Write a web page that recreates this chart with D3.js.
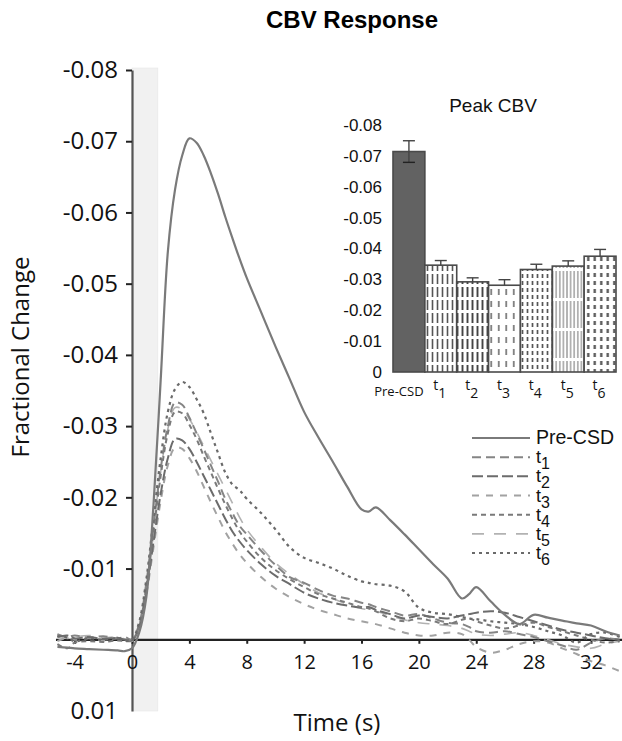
<!DOCTYPE html>
<html><head><meta charset="utf-8">
<script src="https://cdn.jsdelivr.net/npm/d3@7"></script>
<style>body{margin:0;background:#fff} svg{display:block}</style>
</head><body>
<svg id="chart" width="622" height="741"></svg>
<script>
// ---------- DATA ----------
const times = [-5.2,-4.5,-4,-3,-2,-1,-0.5,0,0.5,1,1.5,2,2.5,3,3.5,4,4.5,5,5.5,6,6.5,7,7.5,8,9,10,11,12,13,14,15,16,16.5,17,18,19,20,21,22,23,23.5,24,25,26,27,28,29,30,31,32,33,34];
const preCSD = [0.0010,0.0011,0.0012,0.0013,0.0014,0.0015,0.0016,0.0012,-0.0010,-0.0060,-0.0190,-0.0365,-0.0545,-0.0632,-0.0680,-0.0704,-0.0698,-0.0680,-0.0655,-0.0626,-0.0594,-0.0564,-0.0535,-0.0508,-0.0460,-0.0412,-0.0366,-0.0320,-0.0284,-0.0250,-0.0215,-0.0183,-0.0180,-0.0186,-0.0168,-0.0148,-0.0127,-0.0106,-0.0086,-0.0058,-0.0064,-0.0074,-0.0054,-0.0035,-0.0022,-0.0035,-0.0031,-0.0027,-0.0023,-0.0020,-0.0012,-0.0006];
const t1 = [-0.0008,-0.0004,-0.0006,-0.0003,-0.0005,-0.0002,-0.0004,0.0000,-0.0022,-0.0080,-0.0160,-0.0240,-0.0300,-0.0333,-0.0330,-0.0312,-0.0290,-0.0268,-0.0245,-0.0222,-0.0198,-0.0178,-0.0160,-0.0148,-0.0125,-0.0105,-0.0088,-0.0080,-0.0070,-0.0062,-0.0058,-0.0052,-0.0050,-0.0046,-0.0040,-0.0034,-0.0036,-0.0030,-0.0024,-0.0022,-0.0018,-0.0012,-0.0010,-0.0012,-0.0008,-0.0004,0.0002,0.0008,0.0014,0.0004,-0.0002,0.0000];
const t2 = [-0.0004,-0.0006,-0.0002,-0.0004,-0.0001,-0.0003,0.0000,0.0001,-0.0018,-0.0068,-0.0138,-0.0205,-0.0255,-0.0282,-0.0280,-0.0268,-0.0250,-0.0230,-0.0210,-0.0190,-0.0170,-0.0152,-0.0138,-0.0126,-0.0106,-0.0090,-0.0078,-0.0066,-0.0058,-0.0052,-0.0048,-0.0045,-0.0046,-0.0042,-0.0036,-0.0030,-0.0034,-0.0032,-0.0030,-0.0034,-0.0036,-0.0038,-0.0040,-0.0038,-0.0032,-0.0026,-0.0020,-0.0014,-0.0010,-0.0006,-0.0002,0.0000];
const t3 = [0.0002,-0.0003,0.0000,-0.0002,0.0001,-0.0002,0.0001,0.0001,-0.0016,-0.0064,-0.0130,-0.0195,-0.0245,-0.0270,-0.0268,-0.0255,-0.0237,-0.0215,-0.0193,-0.0172,-0.0152,-0.0135,-0.0120,-0.0108,-0.0088,-0.0072,-0.0060,-0.0050,-0.0042,-0.0036,-0.0030,-0.0026,-0.0024,-0.0022,-0.0016,-0.0010,-0.0006,-0.0006,-0.0010,-0.0008,0.0000,0.0010,0.0018,0.0014,0.0006,0.0002,0.0004,0.0012,0.0020,0.0030,0.0036,0.0044];
const t4 = [0.0006,0.0012,0.0004,0.0002,0.0003,0.0001,0.0002,0.0001,-0.0020,-0.0075,-0.0152,-0.0230,-0.0290,-0.0320,-0.0318,-0.0302,-0.0282,-0.0258,-0.0235,-0.0212,-0.0190,-0.0170,-0.0152,-0.0138,-0.0115,-0.0098,-0.0085,-0.0074,-0.0064,-0.0058,-0.0052,-0.0046,-0.0044,-0.0040,-0.0030,-0.0026,-0.0030,-0.0026,-0.0022,-0.0028,-0.0030,-0.0026,-0.0020,-0.0016,-0.0020,-0.0024,-0.0018,-0.0012,-0.0006,0.0000,0.0004,0.0002];
const t5 = [-0.0006,-0.0002,-0.0004,-0.0006,-0.0003,-0.0004,-0.0001,0.0002,-0.0020,-0.0078,-0.0158,-0.0236,-0.0296,-0.0326,-0.0324,-0.0310,-0.0292,-0.0272,-0.0252,-0.0232,-0.0212,-0.0192,-0.0172,-0.0155,-0.0130,-0.0108,-0.0092,-0.0078,-0.0066,-0.0058,-0.0050,-0.0044,-0.0042,-0.0040,-0.0034,-0.0028,-0.0024,-0.0022,-0.0020,-0.0016,-0.0012,-0.0008,-0.0006,-0.0008,-0.0010,-0.0006,0.0000,0.0006,0.0010,0.0012,0.0006,0.0002];
const t6 = [-0.0005,-0.0003,0.0002,-0.0002,0.0000,-0.0002,0.0001,0.0000,-0.0025,-0.0085,-0.0170,-0.0255,-0.0320,-0.0352,-0.0362,-0.0355,-0.0338,-0.0318,-0.0290,-0.0262,-0.0235,-0.0218,-0.0210,-0.0198,-0.0178,-0.0155,-0.0130,-0.0115,-0.0108,-0.0100,-0.0090,-0.0082,-0.0080,-0.0078,-0.0076,-0.0068,-0.0045,-0.0038,-0.0036,-0.0032,-0.0030,-0.0029,-0.0026,-0.0024,-0.0022,-0.0018,-0.0012,-0.0006,0.0004,-0.0008,-0.0010,-0.0004];
const seriesNames = ["Pre-CSD","t1","t2","t3","t4","t5","t6"];
const stimulusWindow = [0, 1.8];
const xTicks = [-4,0,4,8,12,16,20,24,28,32];
const yTicks = [-0.08,-0.07,-0.06,-0.05,-0.04,-0.03,-0.02,-0.01,0.01];
const barCategories = ["Pre-CSD","t1","t2","t3","t4","t5","t6"];
const barValues = [-0.0714,-0.0346,-0.0292,-0.0281,-0.0332,-0.0343,-0.0375];
const barErrors = [0.0035,0.0015,0.0013,0.0018,0.0017,0.0017,0.0022];
const insetYTicks = [-0.08,-0.07,-0.06,-0.05,-0.04,-0.03,-0.02,-0.01,0];

// ---------- STYLES ----------
const lineStyles = {
  "Pre-CSD": {color:"#7a7a7a", dash:null, w:2.2},
  "t1": {color:"#858585", dash:"9,5", w:2},
  "t2": {color:"#6c6c6c", dash:"11,4", w:2},
  "t3": {color:"#a2a2a2", dash:"7,7", w:2},
  "t4": {color:"#7a7a7a", dash:"5,4", w:2},
  "t5": {color:"#b2b2b2", dash:"12,10", w:1.6},
  "t6": {color:"#6a6a6a", dash:"3,4", w:2.2}
};
const seriesData = {"Pre-CSD":preCSD, t1, t2, t3, t4, t5, t6};

const svg = d3.select("#chart");
const x = d3.scaleLinear().domain([0, 32]).range([132, 591]);
const y = d3.scaleLinear().domain([-0.08, 0.01]).range([70, 711]);
const fmt = v => v === 0 ? "0" : v.toFixed(2);
const tickFont = "'Open Sans', sans-serif";

// Title
svg.append("text").attr("x", 352).attr("y", 28).attr("text-anchor","middle")
  .attr("font-family","'Liberation Sans', Arial, sans-serif").attr("font-weight","bold")
  .attr("font-size", 24).text("CBV Response");

// stimulus band
svg.append("rect").attr("x", x(stimulusWindow[0])).attr("width", x(stimulusWindow[1]) - x(stimulusWindow[0]))
  .attr("y", y(-0.08) - 2).attr("height", y(0.01) - y(-0.08) + 2).attr("fill", "#f1f1f1").attr("stroke","#e6e6e6").attr("stroke-width",0.6);

// y axis
const yAxis = svg.append("g").attr("transform", `translate(${x(0)},0)`)
  .call(d3.axisLeft(y).tickValues(yTicks).tickFormat(fmt).tickSize(6).tickSizeOuter(0).tickPadding(8));
yAxis.select(".domain").attr("stroke","#555").attr("stroke-width",2.2);
yAxis.selectAll(".tick line").attr("stroke","#222").attr("stroke-width",2);
yAxis.selectAll(".tick").filter(d => d === 0.01).select("line").remove();
yAxis.selectAll(".tick text").attr("font-family", tickFont).attr("font-size", 24).attr("fill","#111");

// x axis
svg.append("line").attr("x1", x(-5.3)).attr("x2", 622).attr("y1", y(0)).attr("y2", y(0))
  .attr("stroke","#222").attr("stroke-width",2.2);
const xAxis = svg.append("g").attr("transform", `translate(0,${y(0)})`)
  .call(d3.axisBottom(x).tickValues(xTicks).tickFormat(d => d).tickSize(4).tickPadding(11));
xAxis.select(".domain").remove();
xAxis.selectAll(".tick line").attr("stroke","#222").attr("stroke-width",2);
xAxis.selectAll(".tick text").attr("font-family", tickFont).attr("font-size", 20).attr("fill","#111");

// axis titles
svg.append("text").attr("transform","translate(29,357) rotate(-90)").attr("text-anchor","middle")
  .attr("font-family", tickFont).attr("font-size", 24).attr("fill","#111").text("Fractional Change");
svg.append("text").attr("x", 337).attr("y", 731).attr("text-anchor","middle")
  .attr("font-family", tickFont).attr("font-size", 24).attr("fill","#111").text("Time (s)");

// lines
const line = d3.line().x(d => x(d[0])).y(d => y(d[1])).curve(d3.curveCatmullRom.alpha(0.5));
const drawOrder = ["t5","t3","t1","t2","t4","t6","Pre-CSD"];
drawOrder.forEach(name => {
  const st = lineStyles[name];
  const pts = times.map((t, i) => [t, seriesData[name][i]]);
  svg.append("path").datum(pts).attr("d", line).attr("fill","none")
    .attr("stroke", st.color).attr("stroke-width", st.w)
    .attr("stroke-dasharray", st.dash).attr("stroke-linejoin","round");
});

// legend
const legendFont = "'Liberation Sans', Arial, sans-serif";
const legendY = d3.scalePoint().domain(seriesNames).range([438, 553]);
const lg = svg.append("g");
seriesNames.forEach(name => {
  const st = lineStyles[name];
  const yy = legendY(name);
  lg.append("line").attr("x1", 472).attr("x2", 530).attr("y1", yy).attr("y2", yy)
    .attr("stroke", st.color).attr("stroke-width", st.w).attr("stroke-dasharray", st.dash);
  const tx = lg.append("text").attr("x", 536).attr("font-family", legendFont).attr("fill","#111");
  if (name === "Pre-CSD") {
    tx.attr("y", yy + 6).attr("font-size", 19.5).text(name);
  } else {
    tx.attr("y", yy + 6).attr("font-size", 18);
    tx.append("tspan").text("t");
    tx.append("tspan").attr("dy", 6).attr("font-size", 16).text(name.slice(1));
  }
});

// ---------- INSET ----------
const defs = svg.append("defs");
const patterns = {
  t1: {w:5, h:13, dw:1.6, dh:10, c:"#555"},
  t2: {w:5, h:13, dw:1.9, dh:10, c:"#444"},
  t3: {w:7.5, h:12, dw:1.7, dh:6, c:"#777"},
  t4: {w:5, h:7, dw:1.7, dh:4, c:"#555"},
  t5: {w:3.6, h:30, dw:1.2, dh:27, c:"#8a8a8a"},
  t6: {w:6.5, h:8, dw:2.3, dh:4, c:"#555"}
};
Object.entries(patterns).forEach(([k, p]) => {
  const pat = defs.append("pattern").attr("id", "pat-" + k).attr("patternUnits","userSpaceOnUse")
    .attr("width", p.w).attr("height", p.h);
  pat.append("rect").attr("width", p.w).attr("height", p.h).attr("fill","#fff");
  pat.append("rect").attr("x", (p.w - p.dw) / 2).attr("y", 1).attr("width", p.dw).attr("height", p.dh).attr("fill", p.c);
});

const ix = d3.scaleBand().domain(barCategories).range([393, 616]).padding(0);
const iy = d3.scaleLinear().domain([-0.08, 0]).range([125, 372]);
const inset = svg.append("g");
inset.append("text").attr("x", 493).attr("y", 112).attr("text-anchor","middle")
  .attr("font-family", legendFont).attr("font-size", 19).attr("fill","#111").text("Peak CBV");
const iAxis = inset.append("g").attr("transform","translate(386,0)")
  .call(d3.axisLeft(iy).tickValues(insetYTicks).tickFormat(fmt).tickSize(0).tickPadding(4));
iAxis.select(".domain").remove();
iAxis.selectAll(".tick text").attr("font-family", legendFont).attr("font-size", 17).attr("fill","#111");

barCategories.forEach((c, i) => {
  const v = barValues[i];
  inset.append("rect").attr("x", ix(c)).attr("width", ix.bandwidth())
    .attr("y", iy(v)).attr("height", iy(0) - iy(v))
    .attr("fill", i === 0 ? "#626262" : `url(#pat-${c})`)
    .attr("stroke", "#4a4a4a").attr("stroke-width", 1.6);
  const cx = ix(c) + ix.bandwidth() / 2;
  const lo = i === 0 ? v + barErrors[i] : v;
  const hi = v - barErrors[i];
  inset.append("line").attr("x1", cx).attr("x2", cx).attr("y1", iy(lo)).attr("y2", iy(hi))
    .attr("stroke","#444").attr("stroke-width",1.4);
  inset.append("line").attr("x1", cx - 6).attr("x2", cx + 6).attr("y1", iy(hi)).attr("y2", iy(hi))
    .attr("stroke","#444").attr("stroke-width",1.4);
  if (i === 0) {
    inset.append("line").attr("x1", cx - 6).attr("x2", cx + 6).attr("y1", iy(lo)).attr("y2", iy(lo))
      .attr("stroke","#222").attr("stroke-width",1.4);
  }
  // category label
  const lt = inset.append("text").attr("font-family", tickFont).attr("font-size", 13).attr("fill","#111")
    .attr("text-anchor","middle");
  if (c === "Pre-CSD") {
    lt.attr("x", cx - 10).attr("y", 396).text(c);
  } else {
    lt.attr("x", cx - 1).attr("y", 390);
    lt.append("tspan").attr("font-size", 14).text("t");
    lt.append("tspan").attr("dy", 8).attr("font-size", 14).text(c.slice(1));
  }
});
</script>
</body></html>
